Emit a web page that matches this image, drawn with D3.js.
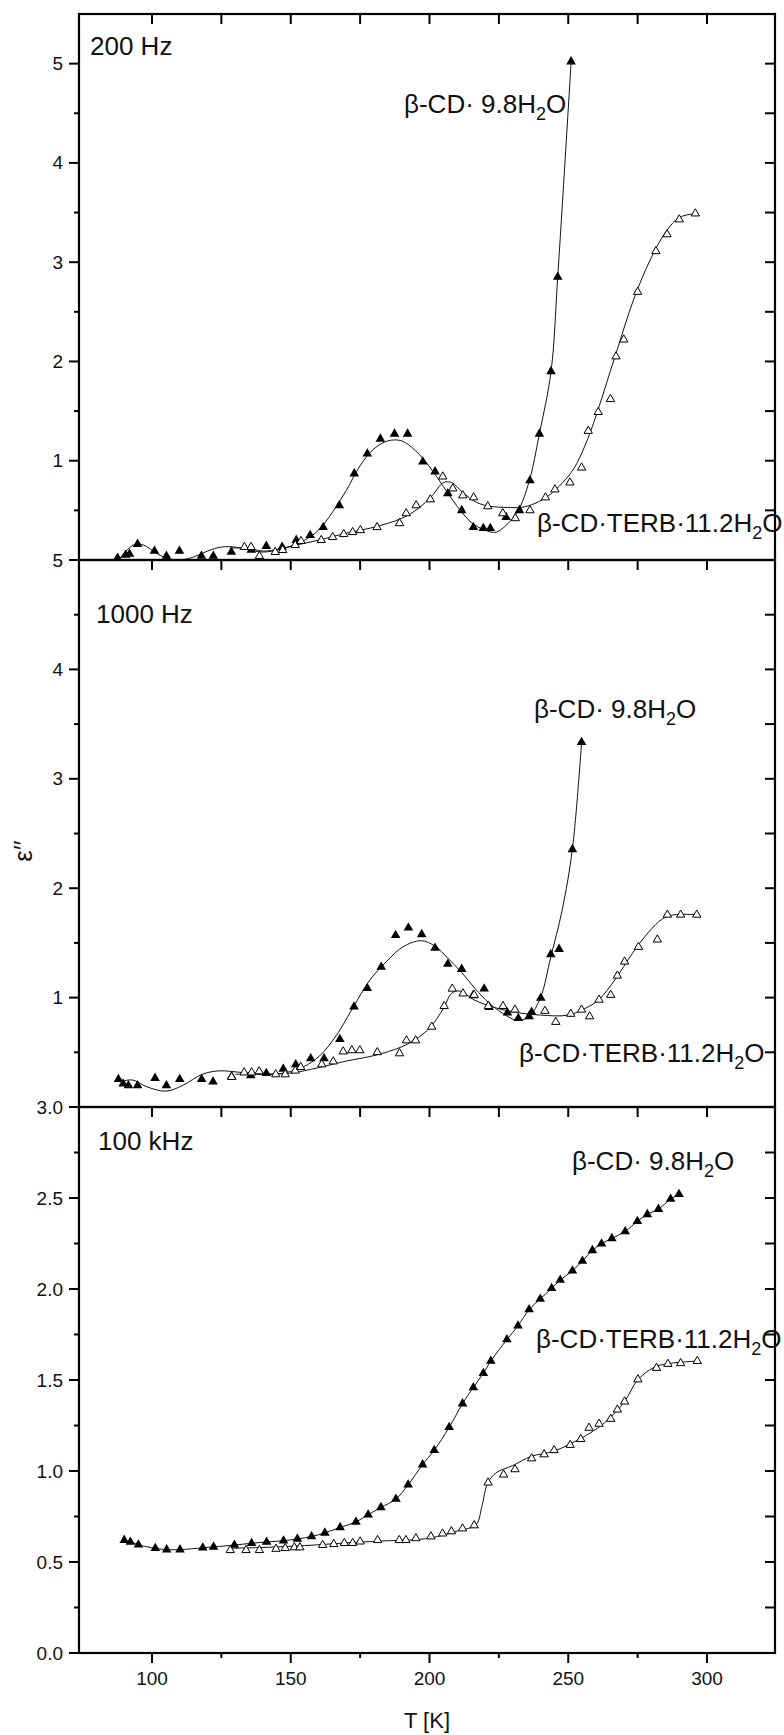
<!DOCTYPE html>
<html>
<head>
<meta charset="utf-8">
<script src="https://cdn.jsdelivr.net/npm/d3@7"></script>
<style>
  html, body { margin: 0; padding: 0; background: #fff; }
  svg { display: block; }
  text { font-family: "Liberation Sans", Arial, Helvetica, sans-serif; fill: #111; }
</style>
</head>
<body>
<svg id="chart" width="784" height="1735"></svg>
<script>
// Dielectric loss ε'' versus temperature for β-CD·9.8H2O (filled) and
// β-CD·TERB·11.2H2O (open) at three measuring frequencies.

// ---------- 200 Hz ----------
const t200cd = [87.6, 90.5, 91.9, 94.8, 100.9, 105.2, 109.9, 117.8, 122.1, 128.6, 135.8, 141.2, 146.9, 152.0, 157.0, 161.7, 167.5, 172.9, 177.6, 182.3, 187.4, 192.1, 197.6, 202.0, 206.6, 211.6, 215.8, 219.4, 221.9, 227.6, 232.4, 236.2, 239.6, 243.8, 246.2, 251.0];
const e200cd = [0.02, 0.05, 0.06, 0.16, 0.09, 0.04, 0.09, 0.04, 0.04, 0.08, 0.10, 0.14, 0.13, 0.20, 0.25, 0.33, 0.55, 0.87, 1.07, 1.22, 1.27, 1.27, 0.99, 0.89, 0.67, 0.50, 0.33, 0.32, 0.32, 0.43, 0.50, 0.80, 1.27, 1.90, 2.85, 5.02];
const t200terb = [133.3, 135.7, 138.7, 144.4, 147.1, 151.6, 153.7, 161.0, 165.1, 169.1, 172.3, 175.1, 181.1, 189.2, 191.6, 195.2, 200.3, 204.8, 208.4, 212.0, 215.9, 221.0, 226.4, 230.9, 236.2, 241.8, 245.2, 250.6, 254.8, 257.2, 260.8, 265.2, 267.2, 270.0, 275.0, 281.6, 285.6, 290.0, 295.8];
const e200terb = [0.13, 0.13, 0.04, 0.08, 0.10, 0.15, 0.19, 0.20, 0.23, 0.26, 0.28, 0.30, 0.33, 0.37, 0.47, 0.55, 0.61, 0.84, 0.72, 0.65, 0.63, 0.54, 0.47, 0.42, 0.50, 0.63, 0.71, 0.78, 0.93, 1.30, 1.49, 1.62, 2.05, 2.22, 2.70, 3.11, 3.28, 3.43, 3.49];
// smoothed fit curves
const f200cdT = [88, 91, 94, 97, 101, 105, 110, 115, 120, 125, 130, 135, 140, 145, 150, 155, 160, 165, 170, 175, 180, 185, 190, 195, 200, 205, 210, 215, 220, 224, 228, 232, 236, 239.6, 243.8, 246.2, 251];
const f200cdE = [0.00, 0.10, 0.16, 0.15, 0.08, 0.02, 0.00, 0.03, 0.09, 0.13, 0.13, 0.10, 0.08, 0.10, 0.14, 0.20, 0.30, 0.48, 0.70, 0.95, 1.12, 1.20, 1.20, 1.10, 0.94, 0.74, 0.54, 0.38, 0.30, 0.28, 0.36, 0.50, 0.80, 1.27, 1.90, 2.85, 5.00];
const f200terbT = [128, 134, 140, 146, 152, 160, 170, 180, 190, 196, 201, 205, 208, 212, 217, 222, 228, 233, 238, 243, 248, 252, 256, 260, 264, 268, 272, 276, 280, 285, 290, 295.8];
const f200terbE = [0.12, 0.12, 0.09, 0.11, 0.15, 0.20, 0.27, 0.33, 0.42, 0.52, 0.65, 0.78, 0.78, 0.68, 0.58, 0.54, 0.53, 0.53, 0.57, 0.65, 0.78, 0.92, 1.15, 1.45, 1.80, 2.15, 2.50, 2.80, 3.05, 3.30, 3.45, 3.49];

// ---------- 1000 Hz ----------
const t1000cd = [87.9, 89.6, 91.5, 94.8, 101.1, 105.2, 110.0, 117.9, 122.0, 128.7, 135.6, 141.2, 147.3, 151.8, 157.2, 162.0, 167.7, 172.8, 177.6, 182.6, 187.8, 192.4, 197.2, 202.0, 206.6, 211.6, 215.7, 219.7, 221.5, 228.1, 232.0, 235.9, 236.8, 240.1, 243.7, 246.7, 251.5, 254.8];
const e1000cd = [0.254, 0.213, 0.196, 0.196, 0.264, 0.196, 0.254, 0.254, 0.23, 0.28, 0.288, 0.308, 0.348, 0.389, 0.443, 0.443, 0.619, 0.917, 1.086, 1.28, 1.57, 1.639, 1.578, 1.453, 1.307, 1.26, 1.02, 1.081, 0.912, 0.861, 0.811, 0.828, 0.868, 0.997, 1.395, 1.443, 2.355, 3.334];
const t1000terb = [128.7, 133.2, 135.9, 138.6, 144.6, 148.0, 151.6, 153.6, 161.2, 165.3, 168.9, 172.0, 174.9, 181.2, 189.2, 191.7, 195.0, 200.8, 205.3, 208.2, 212.1, 216.1, 221.2, 226.5, 230.8, 241.6, 245.5, 250.9, 254.8, 257.7, 261.1, 265.3, 267.7, 270.3, 275.3, 282.1, 285.7, 290.5, 296.3];
const e1000terb = [0.274, 0.315, 0.315, 0.325, 0.298, 0.298, 0.332, 0.365, 0.389, 0.416, 0.507, 0.518, 0.518, 0.5, 0.49, 0.608, 0.608, 0.733, 0.922, 1.081, 1.037, 1.024, 0.922, 0.922, 0.889, 0.878, 0.777, 0.851, 0.889, 0.828, 0.98, 1.024, 1.2, 1.328, 1.463, 1.53, 1.757, 1.757, 1.757];
const f1000cdT = [88.5, 92.9, 98, 105, 111, 118, 124, 132.7, 142.3, 148.3, 154.4, 160.4, 166.4, 172.4, 178.5, 184.5, 190.5, 197, 202, 206.6, 211.6, 216.5, 221.5, 228, 232, 236, 240, 243.7, 247.8, 251.5, 254.8];
const f1000cdE = [0.23, 0.247, 0.186, 0.145, 0.196, 0.298, 0.33, 0.315, 0.298, 0.315, 0.365, 0.467, 0.653, 0.907, 1.16, 1.33, 1.465, 1.52, 1.47, 1.36, 1.23, 1.08, 0.95, 0.83, 0.79, 0.83, 1.0, 1.37, 1.8, 2.36, 3.33];
const f1000terbT = [130, 140, 150, 160, 170, 180, 190, 195, 200, 205, 208, 211, 216, 222, 230, 240, 250, 256, 261, 267, 273, 279, 284, 288, 296.3];
const f1000terbE = [0.30, 0.30, 0.31, 0.36, 0.42, 0.47, 0.55, 0.62, 0.72, 0.90, 1.04, 1.06, 0.98, 0.92, 0.87, 0.84, 0.84, 0.90, 0.98, 1.17, 1.40, 1.60, 1.72, 1.757, 1.757];

// ---------- 100 kHz ----------
const t100kcd = [90.0, 92.2, 95.1, 101.2, 105.3, 110.1, 118.3, 122.2, 129.7, 135.9, 141.3, 147.4, 152.4, 157.5, 162.3, 167.8, 173.5, 177.9, 182.5, 187.9, 192.3, 197.5, 201.7, 207.1, 211.9, 215.8, 219.4, 222.1, 227.9, 231.9, 235.9, 239.9, 244.0, 247.1, 251.5, 255.1, 258.7, 262.0, 265.7, 270.5, 274.9, 278.5, 282.5, 286.9, 289.9];
const e100kcd = [0.62, 0.61, 0.595, 0.575, 0.568, 0.568, 0.578, 0.583, 0.593, 0.603, 0.61, 0.617, 0.627, 0.64, 0.66, 0.69, 0.72, 0.76, 0.80, 0.846, 0.924, 1.035, 1.114, 1.24, 1.37, 1.459, 1.537, 1.604, 1.722, 1.798, 1.887, 1.945, 2.004, 2.049, 2.10, 2.154, 2.212, 2.249, 2.278, 2.316, 2.372, 2.41, 2.439, 2.494, 2.521];
const t100kterb = [128.2, 133.9, 138.7, 144.7, 148.0, 151.3, 153.3, 161.5, 165.5, 169.3, 172.3, 175.0, 181.3, 189.1, 191.5, 195.1, 200.5, 204.7, 207.9, 211.9, 216.1, 221.1, 226.7, 230.8, 236.8, 241.3, 244.9, 250.7, 254.5, 257.5, 261.1, 265.3, 267.7, 270.3, 275.1, 281.8, 285.9, 290.5, 296.5];
const e100kterb = [0.565, 0.565, 0.565, 0.572, 0.576, 0.58, 0.58, 0.593, 0.598, 0.604, 0.604, 0.612, 0.62, 0.62, 0.62, 0.63, 0.64, 0.656, 0.668, 0.684, 0.701, 0.936, 0.98, 1.009, 1.069, 1.091, 1.114, 1.143, 1.175, 1.237, 1.259, 1.286, 1.337, 1.381, 1.503, 1.566, 1.588, 1.592, 1.604];
const f100kterbT = [128, 140, 155, 170, 182.5, 196.9, 202.9, 210, 216.8, 218.8, 221, 224, 230, 236.6, 245, 254.6, 260, 264.2, 270.2, 275, 281, 286, 296.5];
const f100kterbE = [0.575, 0.58, 0.59, 0.605, 0.615, 0.625, 0.64, 0.67, 0.706, 0.80, 0.935, 0.99, 1.03, 1.08, 1.11, 1.18, 1.23, 1.28, 1.38, 1.50, 1.57, 1.59, 1.604];

// axis ticks
const xTicks = [100, 125, 150, 175, 200, 225, 250, 275, 300];
const xLabelTicks = [100, 150, 200, 250, 300];
const yTicks200 = [0.5, 1, 1.5, 2, 2.5, 3, 3.5, 4, 4.5, 5];
const yLabels200 = [1, 2, 3, 4, 5];
const yTicks1000 = [0.5, 1, 1.5, 2, 2.5, 3, 3.5, 4, 4.5, 5];
const yLabels1000 = [1, 2, 3, 4, 5];
const yTicks100k = [0, 0.25, 0.5, 0.75, 1, 1.25, 1.5, 1.75, 2, 2.25, 2.5, 2.75, 3];
const yLabels100k = [0, 0.5, 1, 1.5, 2, 2.5, 3];

const freqLabels = ["200 Hz", "1000 Hz", "100 kHz"];
const seriesNames = ["β-CD", "9.8", "β-CD", "TERB", "11.2"];

// ---------- layout ----------
const left = 79, right = 775;
const zip = (a, b) => a.map((v, i) => [v, b[i]]);

const panels = [
  { top: 14, bottom: 560, domain: [0, 5.5], ticks: yTicks200, labels: yLabels200, fmt: d3.format("d"),
    freq: freqLabels[0], fpos: [90, 55],
    cd: zip(t200cd, e200cd), terb: zip(t200terb, e200terb),
    cdFit: zip(f200cdT, f200cdE), terbFit: zip(f200terbT, f200terbE),
    cdLab: [404, 113], terbLab: [537, 532] },
  { top: 560, bottom: 1107, domain: [0, 5], ticks: yTicks1000, labels: yLabels1000, fmt: d3.format("d"),
    freq: freqLabels[1], fpos: [96, 623],
    cd: zip(t1000cd, e1000cd), terb: zip(t1000terb, e1000terb),
    cdFit: zip(f1000cdT, f1000cdE), terbFit: zip(f1000terbT, f1000terbE),
    cdLab: [534, 718], terbLab: [519, 1062] },
  { top: 1107, bottom: 1653, domain: [0, 3], ticks: yTicks100k, labels: yLabels100k, fmt: d3.format(".1f"),
    freq: freqLabels[2], fpos: [98, 1150],
    cd: zip(t100kcd, e100kcd), terb: zip(t100kterb, e100kterb),
    cdFit: zip(t100kcd, e100kcd), terbFit: zip(f100kterbT, f100kterbE),
    cdLab: [572, 1170], terbLab: [536, 1348] }
];

const svg = d3.select("#chart");
const x = d3.scaleLinear().domain([73.7, 324.5]).range([left, right]);

const triFilled = d3.symbol(d3.symbolTriangle, 40)();
const triOpen = d3.symbol(d3.symbolTriangle, 30)();

function formula(g, pos, parts) {
  // formula text with a subscript 2 before the trailing O
  const t = g.append("text").attr("x", pos[0]).attr("y", pos[1])
    .attr("font-size", 26);
  t.append("tspan").text(parts[0]);
  t.append("tspan").attr("font-size", 18).attr("dy", 7).text("2");
  t.append("tspan").attr("dy", -7).text(parts[1]);
}

panels.forEach((p, i) => {
  const y = d3.scaleLinear().domain(p.domain).range([p.bottom, p.top]);
  const g = svg.append("g");
  const line = d3.line().x(d => x(d[0])).y(d => y(d[1])).curve(d3.curveCatmullRom.alpha(0.5));

  // fit curves
  [p.cdFit, p.terbFit].forEach(fit => {
    g.append("path").datum(fit).attr("d", line)
      .attr("fill", "none").attr("stroke", "#111").attr("stroke-width", 1);
  });

  // markers
  g.selectAll(".cd").data(p.cd).join("path")
    .attr("d", triFilled)
    .attr("transform", d => `translate(${x(d[0])},${y(d[1])})`)
    .attr("fill", "#000");
  g.selectAll(".terb").data(p.terb).join("path")
    .attr("d", triOpen)
    .attr("transform", d => `translate(${x(d[0])},${y(d[1])})`)
    .attr("fill", "#fff").attr("stroke", "#000").attr("stroke-width", 1);

  // left axis: outward ticks, longer at labelled values
  const isMajor = v => p.labels.some(l => Math.abs(l - v) < 1e-9);
  g.selectAll(".ly").data(p.ticks).join("line")
    .attr("x1", d => left - (isMajor(d) ? 10 : 5)).attr("x2", left)
    .attr("y1", d => y(d)).attr("y2", d => y(d))
    .attr("stroke", "#000").attr("stroke-width", 2);
  g.selectAll(".ry").data(p.ticks).join("line")
    .attr("x1", right - 10).attr("x2", right)
    .attr("y1", d => y(d)).attr("y2", d => y(d))
    .attr("stroke", "#000").attr("stroke-width", 2);
  g.selectAll(".yl").data(p.labels).join("text")
    .attr("x", left - 16).attr("y", d => y(d))
    .attr("text-anchor", "end").attr("dominant-baseline", "central")
    .attr("font-size", 19).text(d => p.fmt(d));

  // top ticks, pointing into the panel
  g.selectAll(".tx").data(xTicks).join("line")
    .attr("x1", d => x(d)).attr("x2", d => x(d))
    .attr("y1", p.top).attr("y2", p.top + 10)
    .attr("stroke", "#000").attr("stroke-width", 2);

  // frame
  g.append("rect").attr("x", left).attr("y", p.top)
    .attr("width", right - left).attr("height", p.bottom - p.top)
    .attr("fill", "none").attr("stroke", "#000").attr("stroke-width", 2.2);

  // labels
  g.append("text").attr("x", p.fpos[0]).attr("y", p.fpos[1])
    .attr("font-size", 26).text(p.freq);
  formula(g, p.cdLab, [`${seriesNames[0]}· ${seriesNames[1]}H`, "O"]);
  formula(g, p.terbLab, [`${seriesNames[2]}·${seriesNames[3]}·${seriesNames[4]}H`, "O"]);

  if (i === panels.length - 1) {
    g.selectAll(".bx").data(xTicks).join("line")
      .attr("x1", d => x(d)).attr("x2", d => x(d))
      .attr("y1", p.bottom).attr("y2", d => p.bottom + (xLabelTicks.includes(d) ? 10 : 5))
      .attr("stroke", "#000").attr("stroke-width", 2);
    g.selectAll(".bl").data(xLabelTicks).join("text")
      .attr("x", d => x(d)).attr("y", p.bottom + 32)
      .attr("text-anchor", "middle").attr("font-size", 19).text(d => d);
  }
});

// axis titles
svg.append("text").attr("x", 427).attr("y", 1728)
  .attr("text-anchor", "middle").attr("font-size", 22).text("T [K]");
svg.append("text").attr("transform", "translate(32,851) rotate(-90)")
  .attr("text-anchor", "middle").attr("font-size", 26).text("ε′′");
</script>
</body>
</html>
